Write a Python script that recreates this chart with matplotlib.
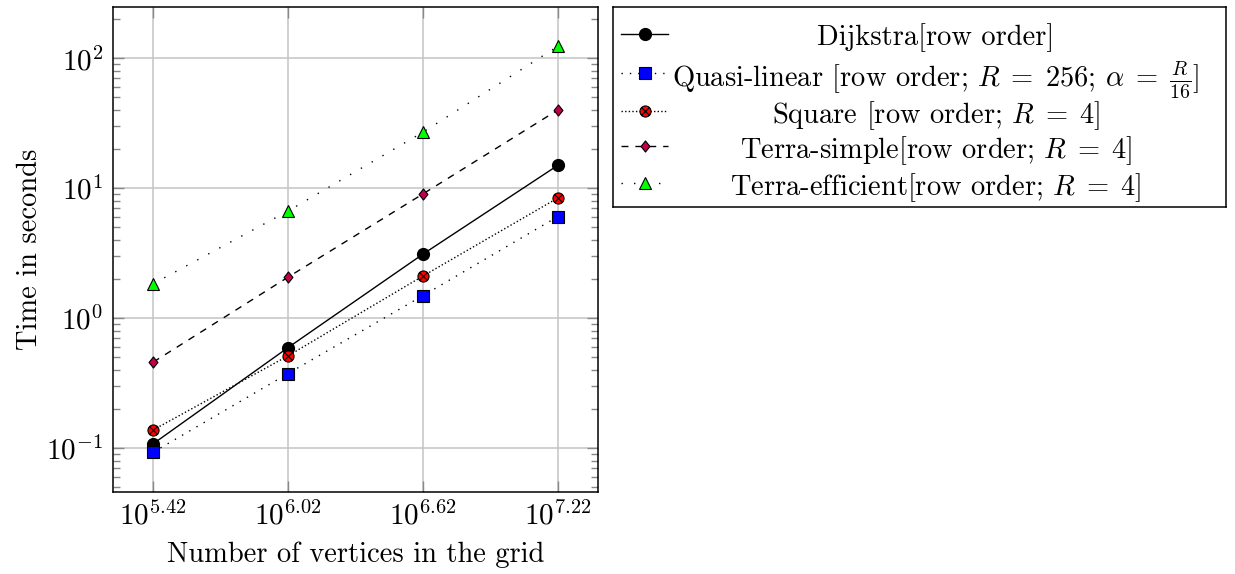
import numpy as np
import matplotlib
matplotlib.use('Agg')
import matplotlib.pyplot as plt
from matplotlib.path import Path
from matplotlib.ticker import FixedLocator, LogLocator, NullFormatter, FixedFormatter

# ---------------- data ----------------
x_exponents = [5.42, 6.02, 6.62, 7.22]
x_ticklabels = [r'$10^{5.42}$', r'$10^{6.02}$', r'$10^{6.62}$', r'$10^{7.22}$']
dijkstra = [0.108, 0.594, 3.11, 15.0]
quasi_linear = [0.093, 0.375, 1.49, 6.05]
square = [0.138, 0.513, 2.11, 8.41]
terra_simple = [0.459, 2.07, 9.04, 40.0]
terra_efficient = [1.84, 6.68, 27.0, 123.7]
series_labels = [
    r'Dijkstra[row order]',
    r'Quasi-linear [row order; $R\;=\;256$; $\alpha\;=\;\frac{R}{16}$]',
    r'Square [row order; $R\;=\;4$]',
    r'Terra-simple[row order; $R\;=\;4$]',
    r'Terra-efficient[row order; $R\;=\;4$]',
]
xlabel = 'Number of vertices in the grid'
ylabel = 'Time in seconds'

# ---------------- style ----------------
plt.rcParams['font.family'] = ['cmr10', 'DejaVu Serif']
plt.rcParams['mathtext.fontset'] = 'cm'
plt.rcParams['axes.formatter.use_mathtext'] = True
FS = 20.5
TFS = 21

d = 0.7071
circ_x = Path.make_compound_path(
    Path.unit_circle(),
    Path([(-d, -d), (d, d), (-d, d), (d, -d)],
         [Path.MOVETO, Path.LINETO, Path.MOVETO, Path.LINETO]))
diamond = Path([(0, 1), (0.8, 0), (0, -1), (-0.8, 0), (0, 1)],
               [Path.MOVETO, Path.LINETO, Path.LINETO, Path.LINETO, Path.CLOSEPOLY])

styles = [
    dict(color='black', lw=1.0, ls='-', marker='o', ms=8.5, mfc='black', mec='black'),
    dict(color='black', lw=1.0, ls=(0, (1, 5)), marker='s', ms=8.0, mfc='#0000ff', mec='black', mew=0.8),
    dict(color='black', lw=1.0, ls=(0, (1, 1.6)), marker=circ_x, ms=8.0, mfc='#ff0000', mec='black', mew=0.8),
    dict(color='black', lw=1.0, ls=(0, (5, 5)), marker=diamond, ms=8.0, mfc='#c0004a', mec='black', mew=0.8),
    dict(color='black', lw=1.0, ls=(0, (1, 8)), marker='^', ms=8.0, mfc='#00ff00', mec='black', mew=0.8),
]
series = [dijkstra, quasi_linear, square, terra_simple, terra_efficient]

W, H = 1235, 574
fig = plt.figure(figsize=(W / 100, H / 100), dpi=100)
ax = fig.add_axes([113 / W, 1 - 492 / H, (598 - 113) / W, (492 - 7) / H])

xs = 10 ** np.array(x_exponents)
for ys, st in zip(series, styles):
    ax.plot(xs, ys, zorder=3, clip_on=False, **st)

ax.set_xscale('log')
ax.set_yscale('log')
ax.set_xlim(10 ** 5.241, 10 ** 7.399)
ax.set_ylim(10 ** -1.338, 10 ** 2.395)

ax.xaxis.set_major_locator(FixedLocator(xs))
ax.xaxis.set_major_formatter(FixedFormatter(x_ticklabels))
ax.xaxis.set_minor_locator(FixedLocator([]))
ax.yaxis.set_major_locator(LogLocator(base=10, numticks=20))
ax.yaxis.set_minor_locator(LogLocator(base=10, subs=np.arange(2, 10), numticks=20))
ax.yaxis.set_minor_formatter(NullFormatter())

ax.grid(True, which='major', color='#c4c4c4', lw=1.1, zorder=0)
ax.set_axisbelow(True)
ax.tick_params(which='major', direction='in', length=8, width=1.0, color='#888888',
               top=True, right=True, labelsize=TFS, pad=7)
ax.tick_params(which='minor', direction='in', length=5, width=1.0, color='#888888',
               top=True, right=True)
for sp in ax.spines.values():
    sp.set_linewidth(1.1)

ax.set_xlabel(xlabel, fontsize=FS, labelpad=8)
ax.set_ylabel(ylabel, fontsize=FS, labelpad=2)

# ---------------- legend (pgfplots style, centered entries) ----------------
lx0, lx1, ly0, ly1 = 613, 1226, 7, 207
lax = fig.add_axes([lx0 / W, 1 - ly1 / H, (lx1 - lx0) / W, (ly1 - ly0) / H])
lax.set_xlim(lx0, lx1)
lax.set_ylim(ly1, ly0)
lax.set_xticks([])
lax.set_yticks([])
for sp in lax.spines.values():
    sp.set_linewidth(1.1)
row_y = [34, 73, 111, 146, 183]
for yy, st, lab in zip(row_y, styles, series_labels):
    lax.plot([621, 645, 668], [yy, yy, yy], markevery=[1], **st)
    lax.text(936, yy, lab, fontsize=FS, ha='center', va='center_baseline')

fig.savefig('out.png', dpi=100)
